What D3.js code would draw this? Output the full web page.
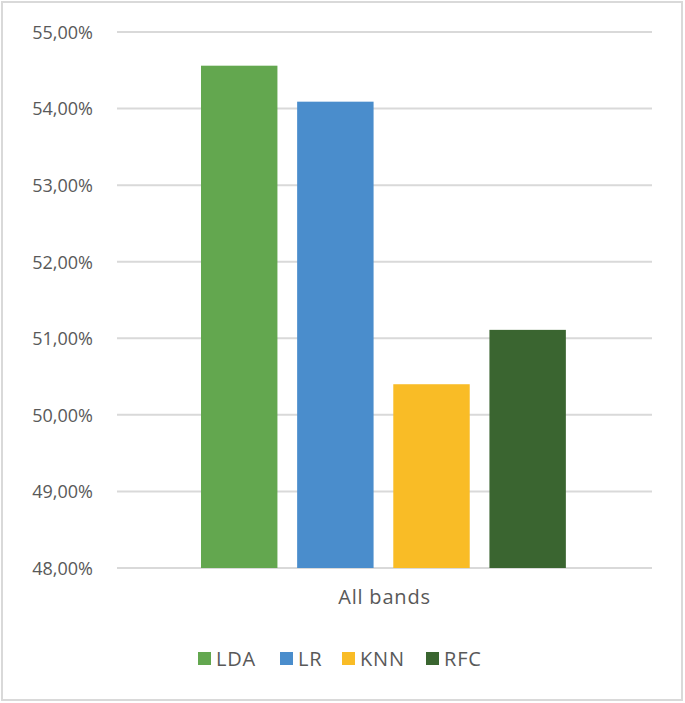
<!DOCTYPE html>
<html>
<head>
<meta charset="utf-8">
<script src="https://cdn.jsdelivr.net/npm/d3@7"></script>
<style>
  body { margin: 0; background: #fff; }
  svg text { font-family: "Open Sans", "Liberation Sans", sans-serif; fill: #595959; }
</style>
</head>
<body>
<svg id="chart" width="685" height="703"></svg>
<script>
// data
var categories = ['All bands'];
var seriesNames = ['LDA', 'LR', 'KNN', 'RFC'];
var seriesValues = [54.56, 54.09, 50.40, 51.11];
var seriesColors = ['#63a74f', '#4a8dcc', '#f9bc26', '#3a6530'];
var yTicks = [48, 49, 50, 51, 52, 53, 54, 55];

var svg = d3.select('#chart');

// outer frame
svg.append('rect')
    .attr('x', 2).attr('y', 2)
    .attr('width', 680).attr('height', 698)
    .attr('fill', '#fff')
    .attr('stroke', '#d9d9d9')
    .attr('stroke-width', 2);

var plotLeft = 117, plotRight = 652, plotTop = 32, plotBottom = 568;

var y = d3.scaleLinear().domain([48, 55]).range([plotBottom, plotTop]);
var x0 = d3.scaleBand().domain(categories).range([plotLeft, plotRight]);
var x1 = d3.scaleBand().domain(seriesNames)
    .range([x0.bandwidth() * 0.157, x0.bandwidth() * 0.839])
    .paddingInner(0.205);

// gridlines
svg.append('g').selectAll('line')
    .data(yTicks)
    .enter()
    .append('line')
    .attr('x1', plotLeft).attr('x2', plotRight)
    .attr('y1', function (d) { return y(d); })
    .attr('y2', function (d) { return y(d); })
    .attr('stroke', '#d9d9d9')
    .attr('stroke-width', 2);

// y axis labels
var yAxis = d3.axisLeft(y)
    .tickValues(yTicks)
    .tickSize(0)
    .tickPadding(0)
    .tickFormat(function (d) { return d.toFixed(2).replace('.', ',') + '%'; });

var ga = svg.append('g')
    .attr('transform', 'translate(93,0)')
    .call(yAxis);
ga.select('.domain').remove();
ga.selectAll('text')
    .style('font-size', '18px')
    .attr('dy', '0.35em');

// bars
var groups = svg.append('g').selectAll('g')
    .data(categories)
    .enter()
    .append('g')
    .attr('transform', function (d) { return 'translate(' + x0(d) + ',0)'; });

groups.selectAll('rect')
    .data(seriesNames.map(function (s, i) { return { name: s, value: seriesValues[i], color: seriesColors[i] }; }))
    .enter()
    .append('rect')
    .attr('x', function (d) { return x1(d.name); })
    .attr('width', x1.bandwidth())
    .attr('y', function (d) { return y(d.value); })
    .attr('height', function (d) { return y(48) - y(d.value); })
    .attr('fill', function (d) { return d.color; });

// category label
var xAxis = d3.axisBottom(x0).tickSize(0).tickPadding(0);
var gx = svg.append('g')
    .attr('transform', 'translate(0,' + (plotBottom + 22) + ')')
    .call(xAxis);
gx.select('.domain').remove();
gx.selectAll('text')
    .style('font-size', '20px')
    .style('letter-spacing', '0.8px');

// legend
var legendX = [198, 280, 342, 426];
var legend = svg.append('g').selectAll('g')
    .data(seriesNames)
    .enter()
    .append('g')
    .attr('transform', function (d, i) { return 'translate(' + legendX[i] + ',652)'; });

legend.append('rect')
    .attr('width', 13).attr('height', 13)
    .attr('fill', function (d, i) { return seriesColors[i]; });

legend.append('text')
    .attr('x', 18)
    .attr('y', 6.5)
    .attr('dy', '0.35em')
    .style('font-size', '20px')
    .style('letter-spacing', '0.8px')
    .text(function (d) { return d; });
</script>
</body>
</html>
